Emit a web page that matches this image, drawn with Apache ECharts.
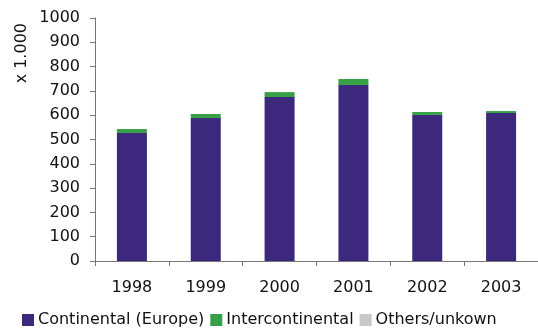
<!DOCTYPE html>
<html><head><meta charset="utf-8">
<script src="https://cdn.jsdelivr.net/npm/echarts@6/dist/echarts.min.js"></script>
<style>html,body{margin:0;padding:0;background:#fff}#c{width:538px;height:328px}</style>
</head><body><div id="c"></div>
<script>
const years = ['1998','1999','2000','2001','2002','2003'];
const continental = [527, 588, 675, 724, 601, 609];
const intercontinental = [16, 17, 20, 25, 12, 8];
const others = [0, 0, 0, 0, 0, 0];
const yTicks = {min: 0, max: 1000, interval: 100};
const yName = 'x 1.000';

const font = 'DejaVu Sans, Verdana, sans-serif';
const chart = echarts.init(document.getElementById('c'), null, {renderer: 'canvas'});
chart.setOption({
  animation: false,
  textStyle: {fontFamily: font},
  grid: {left: 95, right: 0, top: 18, bottom: 67, containLabel: false, outerBoundsMode: 'none'},
  legend: {
    left: 17, top: 307, itemWidth: 12, itemHeight: 12, itemGap: 6,
    icon: 'rect',
    textStyle: {fontFamily: font, fontSize: 16, color: '#111', padding: [0,0,0,-1]},
    data: ['Continental (Europe)', 'Intercontinental', 'Others/unkown']
  },
  graphic: [{
    type: 'text', left: 14, top: 23, rotation: Math.PI / 2,
    style: {text: yName, font: '16px ' + font, fill: '#111'}
  }],
  xAxis: {
    type: 'category', data: years,
    axisLine: {lineStyle: {color: '#777', width: 1}},
    axisTick: {show: true, length: 5, lineStyle: {color: '#777'}},
    axisLabel: {fontFamily: font, fontSize: 16, color: '#111', margin: 19}
  },
  yAxis: {
    type: 'value', min: yTicks.min, max: yTicks.max, interval: yTicks.interval,
    splitLine: {show: false},
    axisLine: {show: true, lineStyle: {color: '#777'}},
    axisTick: {show: true, length: 5, lineStyle: {color: '#777'}},
    axisLabel: {fontFamily: font, fontSize: 16, color: '#111', margin: 15, formatter: v => String(v)}
  },
  series: [
    {name: 'Continental (Europe)', type: 'bar', stack: 'a', data: continental, barWidth: 30, itemStyle: {color: '#3c297e'}},
    {name: 'Intercontinental', type: 'bar', stack: 'a', data: intercontinental, barWidth: 30, itemStyle: {color: '#35a046'}},
    {name: 'Others/unkown', type: 'bar', stack: 'a', data: others, barWidth: 30, itemStyle: {color: '#c8c8cc'}}
  ]
});
</script></body></html>
